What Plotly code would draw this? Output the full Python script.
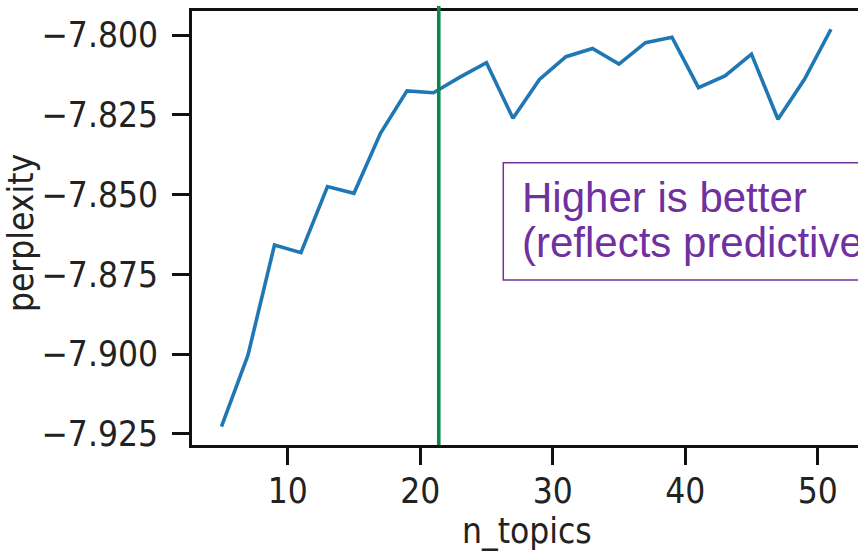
import plotly.graph_objects as go

n_topics = [5, 7, 9, 11, 13, 15, 17, 19, 21, 23, 25, 27, 29, 31, 33, 35, 37, 39, 41, 43, 45, 47, 49, 51]
perplexity = [-7.9227, -7.9003, -7.8658, -7.8682, -7.8475, -7.8496, -7.8308, -7.8175,
              -7.8181, -7.8132, -7.8087, -7.8261, -7.8139, -7.8068, -7.8042, -7.8091,
              -7.8024, -7.8007, -7.8165, -7.8128, -7.8060, -7.8264, -7.8139, -7.7982]
best_n = 21.4
note_lines = ["Higher is better", "(reflects predictive power)"]
x_title = "n_topics"
y_title = "perplexity"

FONT = "DejaVu Sans Condensed, DejaVu Sans, sans-serif"
W, H = 858, 551
L, T, B, R = 192, 11, 106, 0
PW, PH = W - L - R, H - T - B

def px_x(p):
    return (p - L) / PW

def px_y(p):
    return (H - B - p) / PH

fig = go.Figure()
fig.add_trace(go.Scatter(x=n_topics, y=perplexity, mode="lines",
                         line=dict(color="#1f77b4", width=3.6), showlegend=False))

fig.add_shape(type="line", xref="x", yref="paper", x0=best_n, x1=best_n, y0=0, y1=1.0115,
              line=dict(color="#0B874A", width=3.6), layer="above")

fig.add_shape(type="rect", xref="paper", yref="paper",
              x0=px_x(503.3), x1=1.5, y0=px_y(280), y1=px_y(162.7),
              line=dict(color="#7030A0", width=1.5), layer="above")

for txt, ypx in zip(note_lines, [197, 242]):
    fig.add_annotation(text=txt, xref="paper", yref="paper", x=px_x(521), y=px_y(ypx),
                       xanchor="left", yanchor="middle", showarrow=False, borderpad=0,
                       font=dict(family="Liberation Sans, Arial, sans-serif", size=42, color="#7030A0"))

fig.add_annotation(text=y_title, xref="paper", yref="paper", x=px_x(21), y=px_y(233),
                   xanchor="center", yanchor="middle", textangle=-90, showarrow=False,
                   font=dict(family=FONT, size=35, color="#222222"))
fig.add_annotation(text=x_title, xref="paper", yref="paper", x=px_x(526.5), y=px_y(531),
                   xanchor="center", yanchor="middle", showarrow=False,
                   font=dict(family=FONT, size=35, color="#222222"))

axis_common = dict(showgrid=False, zeroline=False, showline=True, linewidth=3, linecolor="#111111",
                   ticks="outside", ticklen=17, tickwidth=3, tickcolor="#111111",
                   tickfont=dict(family=FONT, size=35, color="#222222"))

fig.update_xaxes(range=[2.777, 53.04], tick0=0, dtick=10, mirror=True, ticklabelstandoff=-4,
                 **axis_common)
fig.update_yaxes(range=[-7.92845, -7.79248], tick0=-7.8, dtick=0.025, tickformat=".3f",
                 mirror=False, ticklabelstandoff=7, **axis_common)

fig.update_layout(width=W, height=H, margin=dict(l=L, r=R, t=T, b=B, pad=0),
                  plot_bgcolor="white", paper_bgcolor="white")

fig.write_html("out.html")
